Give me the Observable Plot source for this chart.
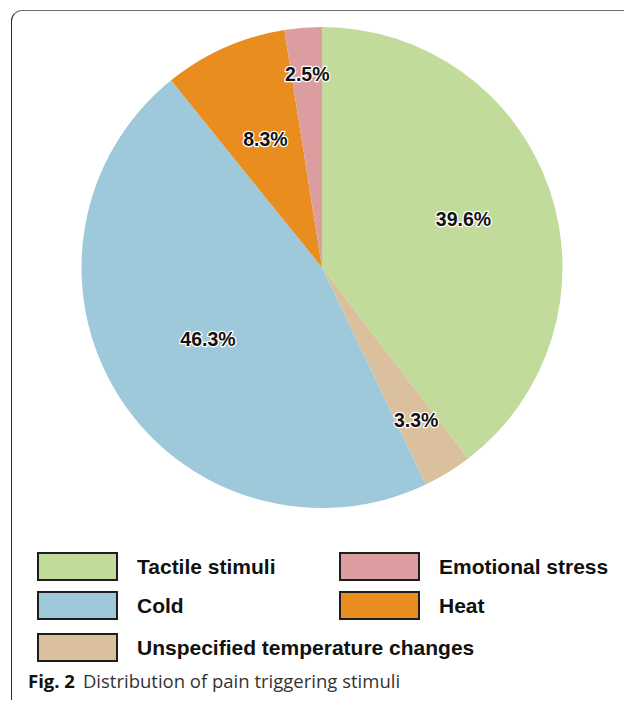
<!DOCTYPE html>
<html>
<head>
<meta charset="utf-8">
<script src="https://cdn.jsdelivr.net/npm/d3@7"></script>
<script src="https://cdn.jsdelivr.net/npm/@observablehq/plot@0.6"></script>
<style>
  html, body { margin: 0; padding: 0; width: 624px; height: 702px; overflow: hidden; background: #fff; }
  #frame { position: absolute; left: 11px; top: 10px; width: 700px; height: 690px;
    border-top: 1.5px solid #6e6e6e; border-left: 1.5px solid #2b2b2b; border-top-left-radius: 11px; box-sizing: border-box; }
  #chart { position: absolute; left: 0; top: 0; }
  .legend-item { position: absolute; display: flex; align-items: center; height: 29px; }
  .swatch { width: 81px; height: 29px; box-sizing: border-box; border: 2px solid #1e1e1e; }
  .legend-label { margin-left: 19px; font: bold 21px "Liberation Sans", Arial, sans-serif; color: #111; white-space: nowrap; }
  #caption { position: absolute; left: 28px; top: 668px; font: 18.5px "Open Sans", sans-serif; color: #333; white-space: nowrap; }
  #caption b { color: #111; font-weight: 700; margin-right: 8px; }
</style>
</head>
<body>
<div id="frame"></div>
<div id="chart"></div>
<div id="legend"></div>
<div id="caption"><b>Fig. 2</b>Distribution of pain triggering stimuli</div>
<script>
// Data (clockwise from 12 o'clock)
const categories = ["Tactile stimuli", "Unspecified temperature changes", "Cold", "Heat", "Emotional stress"];
const percents = [39.6, 3.3, 46.3, 8.3, 2.5];
const colors = ["#c1db9b", "#dbc09d", "#9dc9db", "#e88d1e", "#db9da0"];
// label distance from centre, as a fraction of the radius
const labelRadius = [0.619, 0.745, 0.563, 0.585, 0.805];
// legend order (two columns)
const legendOrder = ["Tactile stimuli", "Emotional stress", "Cold", "Heat", "Unspecified temperature changes"];

const slices = categories.map((name, i) => ({name, value: percents[i], lr: labelRadius[i]}));
const arcs = d3.pie().sort(null).value(d => d.value)(slices);
slices.forEach((d, i) => { d.mid = (arcs[i].startAngle + arcs[i].endAngle) / 2; });

const chart = Plot.plot({
  width: 624,
  height: 530,
  marginLeft: 81.5,
  marginRight: 61.5,
  marginTop: 27,
  marginBottom: 22,
  x: {domain: [-1, 1], axis: null},
  y: {domain: [-1, 1], axis: null},
  color: {domain: categories, range: colors},
  style: {fontFamily: "Liberation Sans, Arial, sans-serif", background: "transparent"},
  marks: [
    Plot.dot(slices, {
      x: () => 0, y: () => 0, fill: "name",
      render(index, scales, values) {
        const cx = scales.x(0), cy = scales.y(0), R = scales.x(1) - cx;
        const arc = d3.arc().innerRadius(0).outerRadius(R);
        const g = d3.create("svg:g").attr("transform", `translate(${cx},${cy})`);
        g.selectAll("path").data(index).join("path")
          .attr("d", i => arc(arcs[i]))
          .attr("fill", i => values.fill[i]);
        return g.node();
      }
    }),
    Plot.text(slices, {
      x: d => d.lr * Math.sin(d.mid),
      y: d => d.lr * Math.cos(d.mid),
      text: d => d.value.toFixed(1) + "%",
      fontSize: 19.5,
      fontWeight: "bold",
      fill: "#111",
      stroke: "white",
      strokeWidth: 2.5
    })
  ]
});
document.getElementById("chart").appendChild(chart);

// Legend built from the same colour mapping
const colorOf = name => colors[categories.indexOf(name)];
const legendPos = [[37, 552], [339, 552], [37, 591], [339, 591], [37, 633]];
const legend = document.getElementById("legend");
legendOrder.forEach((name, i) => {
  const item = document.createElement("div");
  item.className = "legend-item";
  item.style.left = legendPos[i][0] + "px";
  item.style.top = legendPos[i][1] + "px";
  const sw = document.createElement("div");
  sw.className = "swatch";
  sw.style.background = colorOf(name);
  const lab = document.createElement("span");
  lab.className = "legend-label";
  lab.textContent = name;
  item.appendChild(sw);
  item.appendChild(lab);
  legend.appendChild(item);
});
</script>
</body>
</html>
